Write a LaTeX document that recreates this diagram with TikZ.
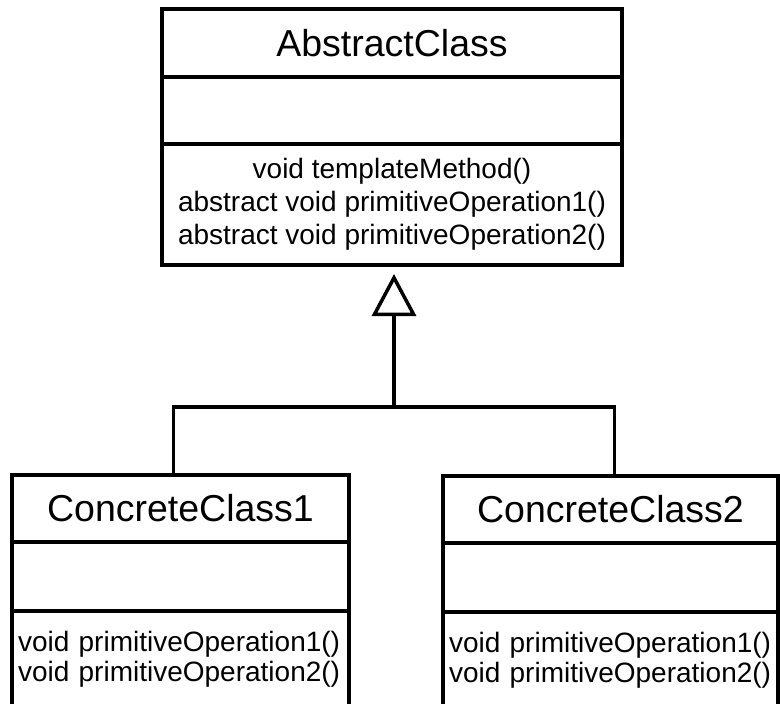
\documentclass[tikz,border=0pt]{standalone}
\usepackage{fontspec}
\setmainfont{Liberation Sans}
\usetikzlibrary{arrows.meta, positioning}
\tikzstyle{title} = [rectangle, draw=black, line width=3.5pt, outer sep=0pt, inner sep=0pt, minimum height=67pt, font=\fontsize{37.5}{42}\selectfont]
\tikzstyle{part} = [rectangle, draw=black, line width=3.5pt, outer sep=0pt, inner sep=0pt, font=\fontsize{28}{33}\selectfont]
\tikzstyle{link} = [line width=3.5pt]
\tikzstyle{inherit} = [line width=3.5pt, shorten >=9pt, -{Triangle[open, length=42pt, width=44pt]}]

\begin{document}
\begin{tikzpicture}[x=1pt, y=-1pt]
    \useasboundingbox (0,0) rectangle (780,704);
    \clip (0,0) rectangle (780,704);

    % abstract class
    \node (ac) [title, minimum width=460pt, minimum height=68pt] at (392,43) {AbstractClass};
    \node (ac-attr) [part, minimum width=460pt, minimum height=67pt, anchor=north] at (ac.south) {};
    \node (ac-ops) [part, minimum width=460pt, minimum height=121pt, anchor=north, align=center] at (ac-attr.south) {void templateMethod()\\abstract void primitiveOperation1()\\abstract void primitiveOperation2()};

    % concrete classes
    \node (cc1) [title, minimum width=337pt] at (180.5,508.5) {ConcreteClass1};
    \node (cc1-attr) [part, minimum width=337pt, minimum height=69pt, anchor=north] at (cc1.south) {};
    \node (cc1-ops) [part, minimum width=337pt, minimum height=96pt, anchor=north, text width=325pt, align=left, font=\fontsize{28}{30}\selectfont] at (cc1-attr.south) {void primitiveOperation1()\\void primitiveOperation2()};

    \node (cc2) [title, minimum width=335pt] at (610.5,509.5) {ConcreteClass2};
    \node (cc2-attr) [part, minimum width=335pt, minimum height=69pt, anchor=north] at (cc2.south) {};
    \node (cc2-ops) [part, minimum width=335pt, minimum height=96pt, anchor=north, text width=323pt, align=left, font=\fontsize{28}{30}\selectfont] at (cc2-attr.south) {void primitiveOperation1()\\void primitiveOperation2()};

    \coordinate (joint) at (394,407);
    \draw [link] ([xshift=-7pt]cc1.north) |- (joint) -| ([xshift=4pt]cc2.north);
    \draw [inherit] (joint) -- (joint |- ac-ops.south);
\end{tikzpicture}
\end{document}
